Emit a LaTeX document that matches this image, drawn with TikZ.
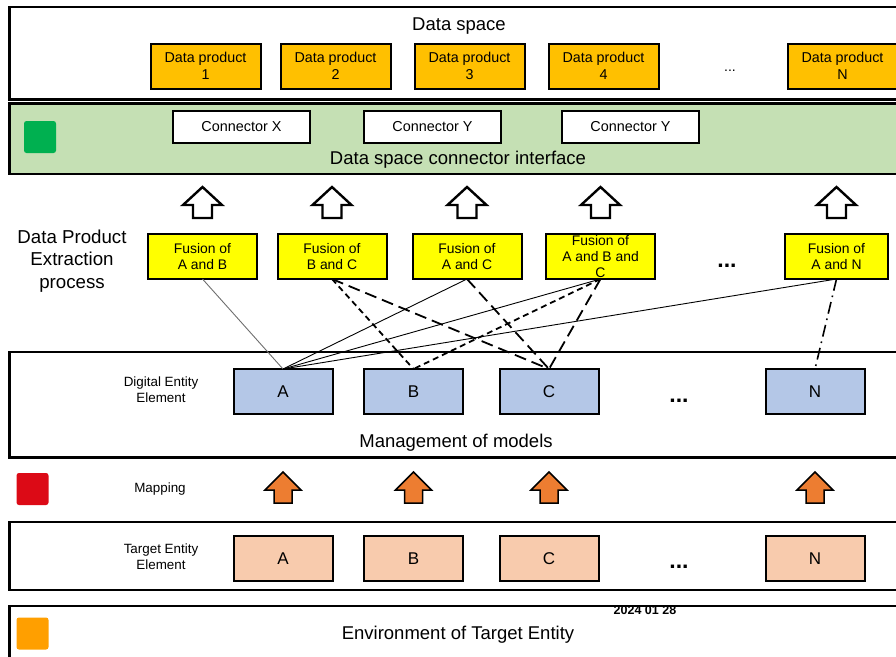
\documentclass[tikz,border=0pt]{standalone}
\usepackage{fontspec}
\setmainfont{Liberation Sans}
\usetikzlibrary{calc}

\definecolor{dpfill}{HTML}{FFC000}
\definecolor{ifacefill}{HTML}{C5E0B4}
\definecolor{ifacemark}{HTML}{00B050}
\definecolor{fusefill}{HTML}{FFFF00}
\definecolor{modelfill}{HTML}{B4C7E7}
\definecolor{targetfill}{HTML}{F8CBAD}
\definecolor{mapmark}{HTML}{DC0A16}
\definecolor{envmark}{HTML}{FF9F00}
\definecolor{maparrow}{HTML}{ED7D31}
\definecolor{thingray}{HTML}{6E6E6E}

\newcommand\fsz[2]{\fontsize{#1}{#2}\selectfont}

\tikzset{
  panel/.style={draw, line width=2.6, outer sep=0, inner sep=0, anchor=north west},
  box/.style={draw, line width=2, inner sep=0, outer sep=0, minimum height=45, align=center},
  dpbox/.style={box, fill=dpfill, minimum width=110, font=\fsz{14.3}{17}},
  connbox/.style={box, fill=white, minimum width=137, minimum height=32, font=\fsz{14.4}{17}},
  fusebox/.style={box, fill=fusefill, minimum width=109, font=\fsz{13.9}{16}},
  modelbox/.style={box, fill=modelfill, minimum width=99, font=\fsz{17}{20}},
  targetbox/.style={box, fill=targetfill, minimum width=99, font=\fsz{17}{20}},
  title/.style={font=\fsz{18.5}{22}, inner sep=0},
  sidelabel/.style={font=\fsz{13.4}{16}, align=center, inner sep=0},
  marker/.style={rounded corners=2.5, minimum width=32, minimum height=32, inner sep=0},
  dotsbig/.style={font=\bfseries\fsz{23}{24}, inner sep=0, anchor=base},
  thinlink/.style={line width=0.9},
  graylink/.style={line width=0.9, draw=thingray},
  shortdash/.style={line width=1.8, dash pattern=on 6 off 4},
  longdash/.style={line width=1.8, dash pattern=on 12 off 6},
  dashdotlink/.style={line width=1.6, dash pattern=on 12 off 5 on 1.6 off 5},
  pics/hollowup/.style={code={
    \draw[line width=2.4, fill=white, line join=miter]
      (0,-15.5) -- (19.5,2.5) -- (9.5,2.5) -- (9.5,15.5) -- (-9.5,15.5)
      -- (-9.5,2.5) -- (-19.5,2.5) -- cycle;}},
  pics/mapup/.style={code={
    \draw[line width=1.5, fill=maparrow, line join=miter]
      (0,-15.5) -- (18,2.5) -- (9,2.5) -- (9,15.5) -- (-9,15.5)
      -- (-9,2.5) -- (-18,2.5) -- cycle;}},
}

\begin{document}
\begin{tikzpicture}[x=1pt, y=-1pt]
\useasboundingbox (0,0) rectangle (896,656);
\clip (0,0) rectangle (896,656);

% ---- layer panels ----
\node[panel, fill=white, minimum width=900, minimum height=92.5] (dspace) at (9.5,7) {};
\node[panel, fill=ifacefill, minimum width=900, minimum height=70.5] (iface) at (9.5,103.5) {};
\node[panel, fill=white, minimum width=900, minimum height=105.5] (models) at (9.5,352) {};
\node[panel, fill=white, minimum width=900, minimum height=68] (targets) at (9.5,522) {};

% ---- data space ----
\node[title] (dstitle) at (459,26) {Data space};
\node[dpbox] (dp1) at (205.5,66) {Data product\\1};
\node[dpbox] (dp2) at (335.5,66) {Data product\\2};
\node[dpbox] (dp3) at (469.5,66) {Data product\\3};
\node[dpbox] (dp4) at (603.5,66) {Data product\\4};
\node[dpbox] (dpn) at (842.5,66) {Data product\\N};
\node[font=\fsz{14}{16}, inner sep=0, anchor=base] (dpdots) at (730,71) {...};

% ---- connector interface ----
\node[marker, fill=ifacemark] (ifacemk) at (40,137) {};
\node[connbox] (cx) at (241.5,127) {Connector X};
\node[connbox] (cy1) at (432.5,127) {Connector Y};
\node[connbox] (cy2) at (630.5,127) {Connector Y};
\node[title] (ifacetitle) at (458,160) {Data space connector interface};

% ---- extraction process ----
\node[font=\fsz{18.7}{22.5}, align=center, inner sep=0] (extract) at (72,261) {Data Product\\Extraction\\process};
\node[fusebox] (f1) at (202.5,256.5) {Fusion of\\A and B};
\node[fusebox] (f2) at (332,256.5) {Fusion of\\B and C};
\node[fusebox] (f3) at (467,256.5) {Fusion of\\A and C};
\node[fusebox] (f4) at (600.5,256.5) {};
\node[font=\fsz{13.9}{16}, align=center, inner sep=0] (f4txt) at (f4.center) {Fusion of\\A and B and\\C};
\node[fusebox, minimum width=103] (f5) at (836.5,256.5) {Fusion of\\A and N};
\node[dotsbig] (fdots) at (727,267) {...};

\foreach \f in {f1,f2,f3,f4,f5}
  \pic at ($(\f.north)+(0,-31.5)$) {hollowup};

% ---- management of models ----
\node[sidelabel] (dlabel) at (161,390) {Digital Entity\\Element};
\node[modelbox] (ma) at (283,391.5) {A};
\node[modelbox] (mb) at (413.5,391.5) {B};
\node[modelbox] (mc) at (549,391.5) {C};
\node[modelbox] (mn) at (815,391.5) {N};
\node[dotsbig] (mdots) at (679,402) {...};
\node[title] (modtitle) at (456,443) {Management of models};

% ---- fusion links ----
\draw[graylink] (f1.south) -- (ma.north);
\draw[thinlink] (f3.south) -- (ma.north);
\draw[thinlink] (f4.south) -- (ma.north);
\draw[thinlink] (f5.south) -- (ma.north);
\draw[shortdash] (f2.south) -- (mb.north);
\draw[shortdash] (f4.south) -- (mb.north);
\draw[longdash] (f2.south) -- (mc.north);
\draw[longdash] (f3.south) -- (mc.north);
\draw[longdash] (f4.south) -- (mc.north);
\draw[dashdotlink] (f5.south) -- (mn.north);

% ---- mapping ----
\node[marker, fill=mapmark] (mapmk) at (32.5,489) {};
\node[sidelabel] (maplabel) at (160,489) {Mapping};
\foreach \m in {ma,mb,mc,mn}
  \pic at (\m.center |- 0,487.5) {mapup};

% ---- target entity ----
\node[sidelabel] (tlabel) at (161,557) {Target Entity\\Element};
\node[targetbox] (ta) at (283,558.5) {A};
\node[targetbox] (tb) at (413.5,558.5) {B};
\node[targetbox] (tc) at (549,558.5) {C};
\node[targetbox] (tn) at (815,558.5) {N};
\node[dotsbig] (tdots) at (679,568) {...};

% ---- environment ----
\node[font=\bfseries\fsz{12.5}{14}, inner sep=0] (date) at (645,610.5) {2024 01 28};
\node[panel, minimum width=900, minimum height=80] (env) at (9.5,606) {};
\node[marker, fill=envmark] (envmk) at (32.5,633.5) {};
\node[title] (envtitle) at (458,635) {Environment of Target Entity};
\end{tikzpicture}
\end{document}
